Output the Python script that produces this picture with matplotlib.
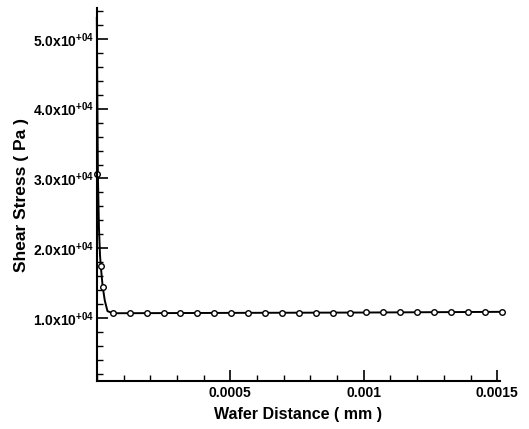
import numpy as np
import matplotlib
matplotlib.use("Agg")
import matplotlib.pyplot as plt
from matplotlib.ticker import FixedLocator, MultipleLocator, FuncFormatter

# curve (mm, Pa)
line_x = [0.0, 0.000004, 0.000008, 0.000012, 0.000015, 0.000022, 0.000030,
          0.000040, 0.000060, 0.000500, 0.001000, 0.001517]
line_y = [5.3e4, 3.06e4, 2.3e4, 1.9e4, 1.74e4, 1.45e4, 1.25e4,
          1.10e4, 1.07e4, 1.075e4, 1.08e4, 1.09e4]

# symbols
mark_x = [0.0, 0.000015, 0.000022,
          0.00006, 0.000123, 0.000187, 0.00025, 0.000313, 0.000377, 0.00044,
          0.000503, 0.000567, 0.00063, 0.000693, 0.000757, 0.00082, 0.000883,
          0.000947, 0.00101, 0.001073, 0.001137, 0.0012, 0.001263, 0.001327,
          0.00139, 0.001453, 0.001517]
mark_y = [3.06e4, 1.74e4, 1.45e4,
          1.07e4, 1.07e4, 1.07e4, 1.072e4, 1.072e4, 1.073e4, 1.073e4,
          1.074e4, 1.074e4, 1.075e4, 1.076e4, 1.077e4, 1.078e4, 1.079e4,
          1.08e4, 1.081e4, 1.082e4, 1.083e4, 1.084e4, 1.085e4, 1.086e4,
          1.087e4, 1.088e4, 1.09e4]

x_ticks = [0.0005, 0.001, 0.0015]
x_tick_labels = ["0.0005", "0.001", "0.0015"]
y_ticks = [1e4, 2e4, 3e4, 4e4, 5e4]

plt.rcParams["font.family"] = ["Liberation Sans", "DejaVu Sans"]

fig = plt.figure(figsize=(5.29, 4.29), dpi=100)
ax = fig.add_axes([0.183, 0.112, 0.762, 0.869])

ax.plot(line_x, line_y, color="black", linewidth=1.4, clip_on=False)
ax.plot(mark_x, mark_y, linestyle="none", marker="o", markersize=4,
        markerfacecolor="white", markeredgecolor="black", markeredgewidth=1.0,
        clip_on=False)

ax.set_xlim(0, 0.00151)
ax.set_ylim(1000, 54400)

ax.xaxis.set_major_locator(FixedLocator(x_ticks))
ax.xaxis.set_major_formatter(FuncFormatter(lambda v, p: x_tick_labels[p] if p is not None and p < len(x_tick_labels) else ""))
ax.xaxis.set_minor_locator(MultipleLocator(0.0001))
ax.yaxis.set_major_locator(FixedLocator(y_ticks))
ax.yaxis.set_major_formatter(FuncFormatter(lambda v, p: r"%.1fx10$^{\mathregular{+04}}$" % (v / 1e4)))
ax.yaxis.set_minor_locator(MultipleLocator(2000))

ax.tick_params(which="major", direction="in", length=8, width=1.2, labelsize=10)
ax.tick_params(axis="y", which="major", pad=2)
ax.tick_params(which="minor", direction="in", length=4, width=1.0)
for lab in ax.get_xticklabels() + ax.get_yticklabels():
    lab.set_fontweight("bold")

for side in ["top", "right"]:
    ax.spines[side].set_visible(False)
for side in ["left", "bottom"]:
    ax.spines[side].set_linewidth(1.5)

ax.set_xlabel("Wafer Distance ( mm )", fontsize=11.5, fontweight="bold", labelpad=5)
ax.set_ylabel("Shear Stress ( Pa )", fontsize=12.5, fontweight="bold", labelpad=3)

fig.savefig("out.png", dpi=100)
